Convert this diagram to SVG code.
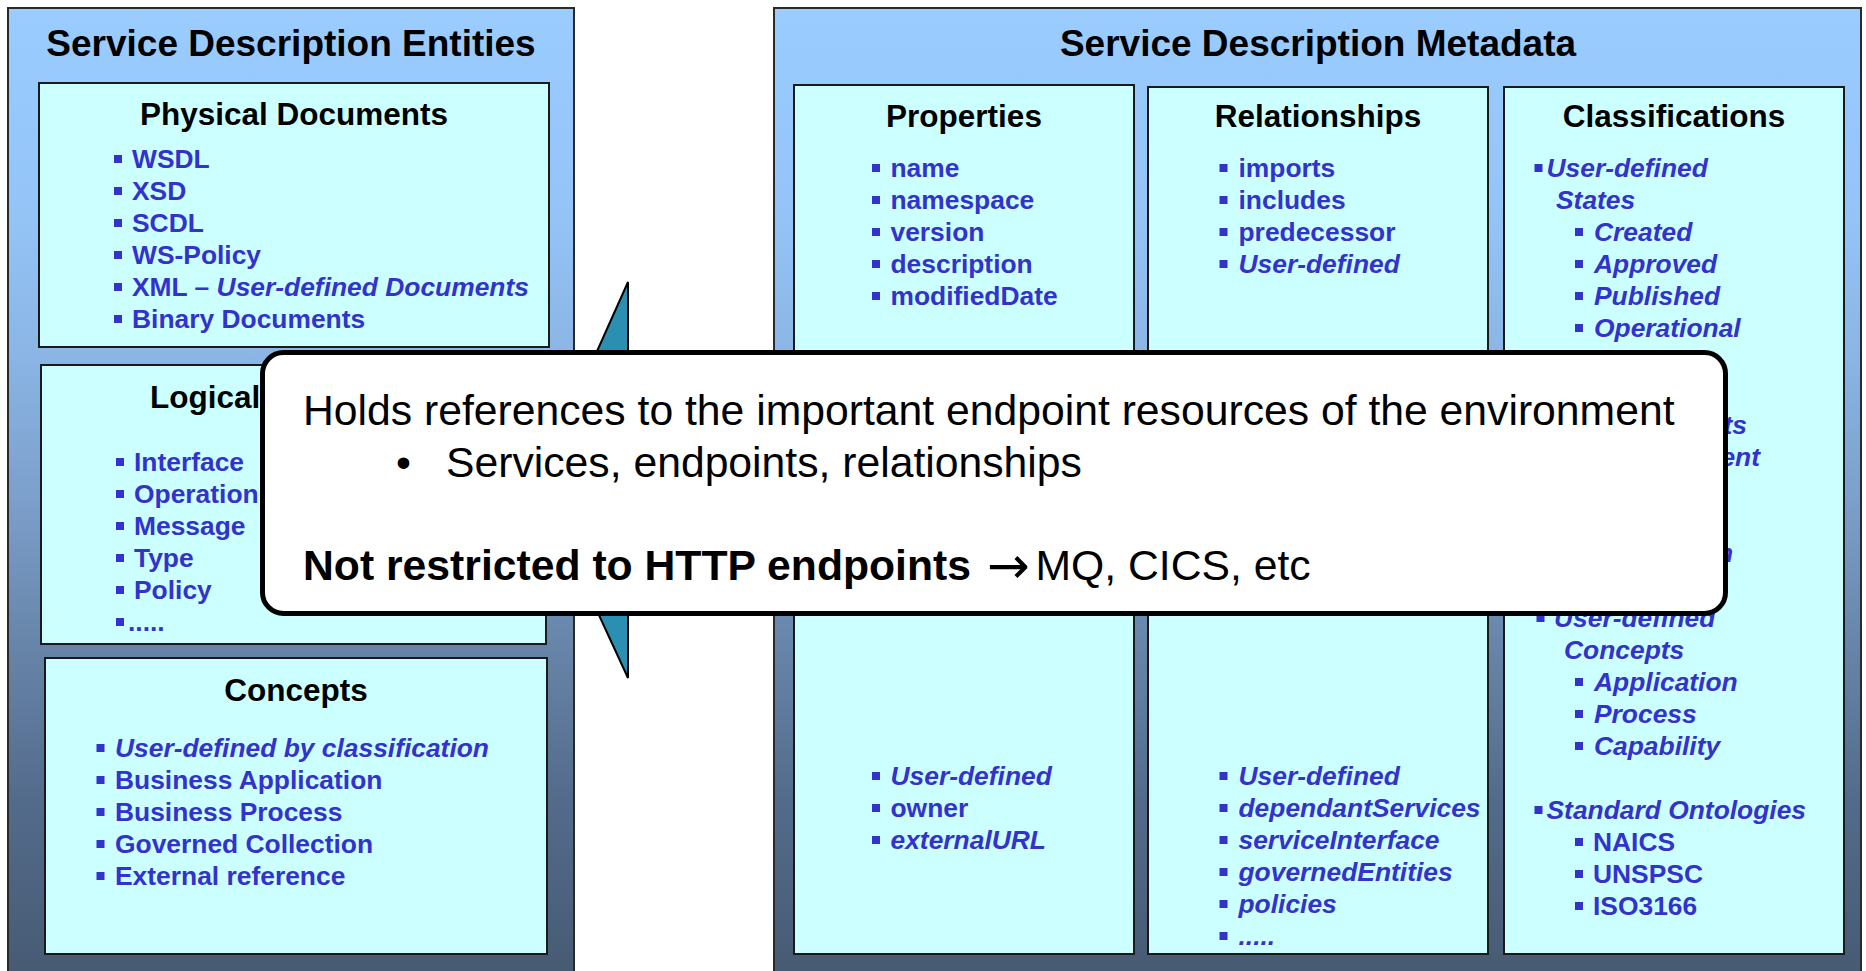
<svg xmlns="http://www.w3.org/2000/svg" width="1866" height="971" viewBox="0 0 1866 971">
<defs>
  <linearGradient id="panelGrad" gradientUnits="userSpaceOnUse" x1="0" y1="8" x2="0" y2="971">
    <stop offset="0" stop-color="#9ACCFF"/>
    <stop offset="0.2" stop-color="#95C5F8"/>
    <stop offset="0.355" stop-color="#8BB6E6"/>
    <stop offset="0.51" stop-color="#7C9FCB"/>
    <stop offset="0.656" stop-color="#6886AA"/>
    <stop offset="0.822" stop-color="#536B8B"/>
    <stop offset="1" stop-color="#475B73"/>
  </linearGradient>
  <style>
    text { font-family: "Liberation Sans", Arial, Helvetica, sans-serif; }
    .panel { fill: url(#panelGrad); stroke: #2a2a2a; stroke-width: 2; }
    .box { fill: #CCFFFF; stroke: #1a1a1a; stroke-width: 2; }
    .h1 { font-size: 37px; font-weight: bold; fill: #000; text-anchor: middle; }
    .h2 { font-size: 31.5px; font-weight: bold; fill: #000; text-anchor: middle; }
    .h2s { font-size: 31.5px; font-weight: bold; fill: #000; }
    .it { font-size: 26.4px; font-weight: bold; fill: #3333CC; }
    .i { font-style: italic; }
    .end { text-anchor: end; }
    .bul { fill: #3333CC; }
    .wedge { fill: #2A8FB0; stroke: #000; stroke-width: 2; stroke-linejoin: miter; }
    .callout { fill: #FFFFFF; stroke: #000; stroke-width: 5; }
    .ct { font-size: 42.7px; fill: #000; }
    .ctb { font-weight: bold; }
    .arr { font-family: "DejaVu Sans", sans-serif; font-size: 51px; }
  </style>
</defs>
<rect x="0" y="0" width="1866" height="971" fill="#FFFFFF"/>

<g id="entities-panel">
  <rect class="panel" x="8" y="8" width="566" height="970"/>
  <text class="h1" x="291" y="56">Service Description Entities</text>
</g>

<g id="physical-documents">
  <rect class="box" x="39" y="83" width="510" height="264"/>
  <text class="h2" x="294" y="125">Physical Documents</text>
  <rect class="bul" x="114" y="155" width="8" height="8"/><text class="it" x="132" y="168">WSDL</text>
  <rect class="bul" x="114" y="187" width="8" height="8"/><text class="it" x="132" y="200">XSD</text>
  <rect class="bul" x="114" y="219" width="8" height="8"/><text class="it" x="132" y="232">SCDL</text>
  <rect class="bul" x="114" y="251" width="8" height="8"/><text class="it" x="132" y="264">WS-Policy</text>
  <rect class="bul" x="114" y="283" width="8" height="8"/><text class="it" x="132" y="296">XML – <tspan class="i">User-defined Documents</tspan></text>
  <rect class="bul" x="114" y="315" width="8" height="8"/><text class="it" x="132" y="328">Binary Documents</text>
</g>

<g id="logical">
  <rect class="box" x="41" y="365" width="505" height="279"/>
  <text class="h2s" x="150" y="408">Logical</text>
  <rect class="bul" x="116" y="458" width="8" height="8"/><text class="it" x="134" y="471">Interface</text>
  <rect class="bul" x="116" y="490" width="8" height="8"/><text class="it" x="134" y="503">Operation</text>
  <rect class="bul" x="116" y="522" width="8" height="8"/><text class="it" x="134" y="535">Message</text>
  <rect class="bul" x="116" y="554" width="8" height="8"/><text class="it" x="134" y="567">Type</text>
  <rect class="bul" x="116" y="586" width="8" height="8"/><text class="it" x="134" y="599">Policy</text>
  <rect class="bul" x="116" y="618" width="8" height="8"/><text class="it" x="128" y="631">.....</text>
</g>

<g id="concepts">
  <rect class="box" x="45" y="658" width="502" height="296"/>
  <text class="h2" x="296" y="701">Concepts</text>
  <rect class="bul" x="96.5" y="744" width="8" height="8"/><text class="it i" x="115" y="757">User-defined by classification</text>
  <rect class="bul" x="96.5" y="776" width="8" height="8"/><text class="it" x="115" y="789">Business Application</text>
  <rect class="bul" x="96.5" y="808" width="8" height="8"/><text class="it" x="115" y="821">Business Process</text>
  <rect class="bul" x="96.5" y="840" width="8" height="8"/><text class="it" x="115" y="853">Governed Collection</text>
  <rect class="bul" x="96.5" y="872" width="8" height="8"/><text class="it" x="115" y="885">External reference</text>
</g>

<g id="metadata-panel">
  <rect class="panel" x="774" y="8" width="1087" height="970"/>
  <text class="h1" x="1318" y="56">Service Description Metadata</text>
</g>

<g id="properties">
  <rect class="box" x="794" y="85" width="340" height="869"/>
  <text class="h2" x="964" y="127">Properties</text>
  <rect class="bul" x="872" y="164" width="8" height="8"/><text class="it" x="890.5" y="177">name</text>
  <rect class="bul" x="872" y="196" width="8" height="8"/><text class="it" x="890.5" y="209">namespace</text>
  <rect class="bul" x="872" y="228" width="8" height="8"/><text class="it" x="890.5" y="241">version</text>
  <rect class="bul" x="872" y="260" width="8" height="8"/><text class="it" x="890.5" y="273">description</text>
  <rect class="bul" x="872" y="292" width="8" height="8"/><text class="it" x="890.5" y="305">modifiedDate</text>
  <rect class="bul" x="872" y="772" width="8" height="8"/><text class="it i" x="890.5" y="785">User-defined</text>
  <rect class="bul" x="872" y="804" width="8" height="8"/><text class="it" x="890.5" y="817">owner</text>
  <rect class="bul" x="872" y="836" width="8" height="8"/><text class="it i" x="890.5" y="849">externalURL</text>
</g>

<g id="relationships">
  <rect class="box" x="1148" y="87" width="340" height="867"/>
  <text class="h2" x="1318" y="127">Relationships</text>
  <rect class="bul" x="1219.5" y="164" width="8" height="8"/><text class="it" x="1238.5" y="177">imports</text>
  <rect class="bul" x="1219.5" y="196" width="8" height="8"/><text class="it" x="1238.5" y="209">includes</text>
  <rect class="bul" x="1219.5" y="228" width="8" height="8"/><text class="it" x="1238.5" y="241">predecessor</text>
  <rect class="bul" x="1219.5" y="260" width="8" height="8"/><text class="it i" x="1238.5" y="273">User-defined</text>
  <rect class="bul" x="1219.5" y="772" width="8" height="8"/><text class="it i" x="1238.5" y="785">User-defined</text>
  <rect class="bul" x="1219.5" y="804" width="8" height="8"/><text class="it i" x="1238.5" y="817">dependantServices</text>
  <rect class="bul" x="1219.5" y="836" width="8" height="8"/><text class="it i" x="1238.5" y="849">serviceInterface</text>
  <rect class="bul" x="1219.5" y="868" width="8" height="8"/><text class="it i" x="1238.5" y="881">governedEntities</text>
  <rect class="bul" x="1219.5" y="900" width="8" height="8"/><text class="it i" x="1238.5" y="913">policies</text>
  <rect class="bul" x="1219.5" y="932" width="8" height="8"/><text class="it i" x="1238.5" y="945">.....</text>
</g>

<g id="classifications">
  <rect class="box" x="1504" y="87" width="340" height="867"/>
  <text class="h2" x="1674" y="127">Classifications</text>
  <rect class="bul" x="1534.5" y="164" width="8" height="8"/><text class="it i" x="1546.5" y="177">User-defined</text>
  <text class="it i" x="1556" y="209">States</text>
  <rect class="bul" x="1575" y="228" width="8" height="8"/><text class="it i" x="1594" y="241">Created</text>
  <rect class="bul" x="1575" y="260" width="8" height="8"/><text class="it i" x="1594" y="273">Approved</text>
  <rect class="bul" x="1575" y="292" width="8" height="8"/><text class="it i" x="1594" y="305">Published</text>
  <rect class="bul" x="1575" y="324" width="8" height="8"/><text class="it i" x="1594" y="337">Operational</text>
  <text class="it i end" x="1747" y="434">ts</text>
  <text class="it i end" x="1760" y="466">ent</text>
  <text class="it i end" x="1733" y="562">n</text>
  <rect class="bul" x="1536.5" y="614" width="8" height="8"/><text class="it i" x="1554" y="627">User-defined</text>
  <text class="it i" x="1564" y="659">Concepts</text>
  <rect class="bul" x="1575" y="678" width="8" height="8"/><text class="it i" x="1594" y="691">Application</text>
  <rect class="bul" x="1575" y="710" width="8" height="8"/><text class="it i" x="1594" y="723">Process</text>
  <rect class="bul" x="1575" y="742" width="8" height="8"/><text class="it i" x="1594" y="755">Capability</text>
  <rect class="bul" x="1534.5" y="806" width="8" height="8"/><text class="it i" x="1546.5" y="819">Standard Ontologies</text>
  <rect class="bul" x="1575" y="838" width="8" height="8"/><text class="it" x="1593" y="851">NAICS</text>
  <rect class="bul" x="1575" y="870" width="8" height="8"/><text class="it" x="1593" y="883">UNSPSC</text>
  <rect class="bul" x="1575" y="902" width="8" height="8"/><text class="it" x="1593" y="915">ISO3166</text>
</g>

<g id="connectors">
  <polygon class="wedge" points="628,282 538,483 628,678"/>
</g>

<g id="callout">
  <rect class="callout" x="262.5" y="352.5" width="1463" height="261" rx="21" ry="21"/>
  <text class="ct" x="303" y="425">Holds references to the important endpoint resources of the environment</text>
  <text class="ct" x="396" y="477">•</text>
  <text class="ct" x="446" y="477">Services, endpoints, relationships</text>
  <text class="ct" y="580"><tspan class="ctb" x="303">Not restricted to HTTP endpoints</tspan><tspan class="arr" x="987" dy="3">→</tspan><tspan x="1035.5" dy="-3">MQ, CICS, etc</tspan></text>
</g>
</svg>
